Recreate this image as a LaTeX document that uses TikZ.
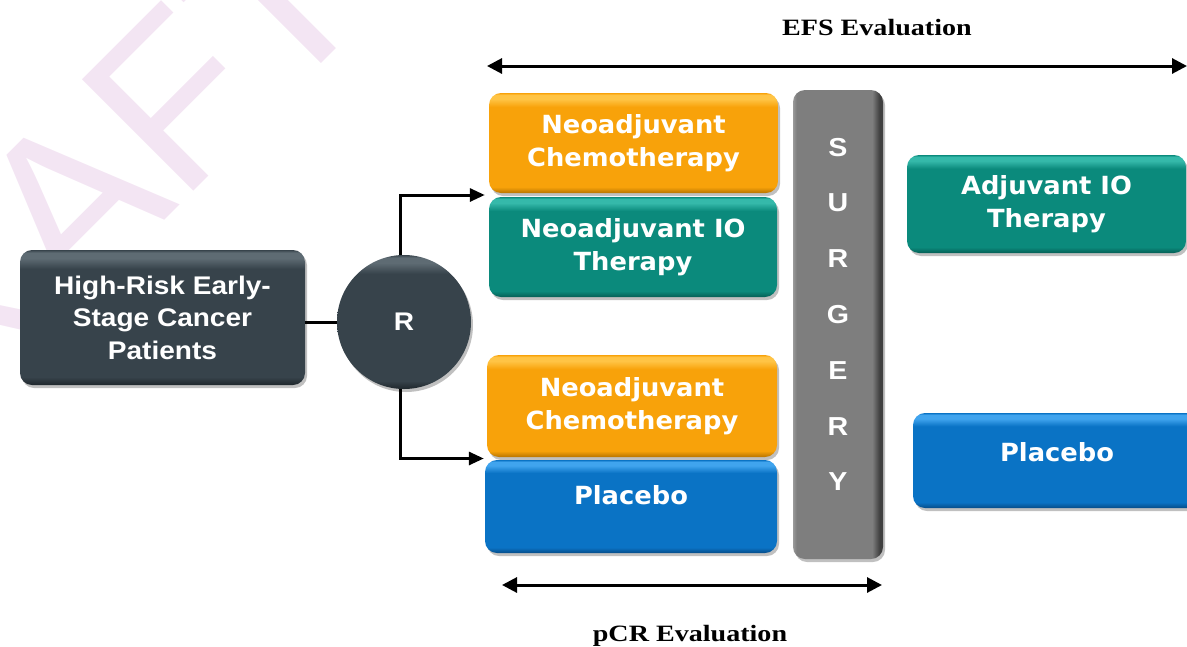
\documentclass[tikz,border=0pt]{standalone}
\usepackage{fontspec}
\usetikzlibrary{arrows.meta,shadows,calc}

% fonts
\newfontfamily\boxfont[FakeStretch=1.03]{DejaVu Sans}
\newfontfamily\arialfont[FakeStretch=1.1]{Liberation Sans}
\newfontfamily\evalfont[FakeStretch=1.2]{Liberation Serif}
\newfontfamily\wmfont{Liberation Sans}

% palette
\definecolor{slateB}{HTML}{37434B}
\definecolor{slateL}{HTML}{5E6B73}
\definecolor{slateD}{HTML}{1F272C}
\definecolor{orangeB}{HTML}{F8A20A}
\definecolor{orangeL}{HTML}{FFC445}
\definecolor{orangeD}{HTML}{B87400}
\definecolor{tealB}{HTML}{0B8A7C}
\definecolor{tealL}{HTML}{35B9AA}
\definecolor{tealD}{HTML}{055F55}
\definecolor{blueB}{HTML}{0A73C5}
\definecolor{blueL}{HTML}{40A4EE}
\definecolor{blueD}{HTML}{064C88}
\definecolor{grayB}{HTML}{7E7E7E}
\definecolor{grayL}{HTML}{9A9A9A}
\definecolor{grayD}{HTML}{404040}
\definecolor{wmpink}{HTML}{F3E5F3}

% glossy vertical shading: dark lower rim, flat body, light upper rim
\newcommand\mkgloss[4]{%
  \pgfdeclareverticalshading{#1}{100bp}{color(0bp)=(#2); color(25bp)=(#2);
    color(28bp)=(#3); color(68bp)=(#3); color(72bp)=(#4); color(74bp)=(#4);
    color(75bp)=(#3); color(100bp)=(#3)}}
\mkgloss{slatesh}{slateD}{slateB}{slateL}
\mkgloss{orangesh}{orangeD}{orangeB}{orangeL}
\mkgloss{tealsh}{tealD}{tealB}{tealL}
\mkgloss{bluesh}{blueD}{blueB}{blueL}
\pgfdeclarehorizontalshading{barsh}{100bp}{color(0bp)=(grayL); color(25bp)=(grayL);
  color(27bp)=(grayB); color(69bp)=(grayB); color(73bp)=(grayD); color(75bp)=(grayD);
  color(100bp)=(grayD)}

\newcommand\boxtext{\boxfont\bfseries\fontsize{25}{33}\selectfont}
\newcommand\arialtext{\arialfont\bfseries\fontsize{25.5}{32.5}\selectfont}

\tikzset{
  shadowed/.style={drop shadow={shadow xshift=2pt, shadow yshift=-3pt, opacity=0.45, fill=black!55}},
  gbox/.style={shadowed, shade, rounded corners=12pt, align=center, text=white,
    inner sep=0pt, font=\boxtext},
  conn/.style={line width=3pt, black},
  tip/.style={-{Triangle[length=15pt,width=13pt]}},
  evalarrow/.style={line width=3pt, {Triangle[length=15pt,width=15pt]}-{Triangle[length=15pt,width=15pt]}},
  evaltext/.style={font=\evalfont\bfseries\fontsize{23.4}{28}\selectfont, inner sep=0pt, anchor=base},
}

\begin{document}
\begin{tikzpicture}[x=1pt, y=-1pt]
\path[use as bounding box] (0,0) rectangle (1187,646);
\clip (0,0) rectangle (1187,646);

% watermark
\node[font=\wmfont\fontsize{229}{229}\selectfont, text=wmpink, rotate=45,
      anchor=base west, inner sep=0pt] (wm) at (-161,546) {DRAFT};

% population and randomisation
\node[gbox, shading=slatesh, font=\arialtext, minimum width=285pt, minimum height=135pt]
  (pat) at (162.5,317.5) {High-Risk Early-\\Stage Cancer\\Patients};
\node[shadowed, shade, shading=slatesh, circle, minimum size=134pt, inner sep=0pt,
      text=white, font=\arialtext] (rnd) at (404,322) {R};

% experimental arm
\node[gbox, shading=orangesh, minimum width=289pt, minimum height=100pt]
  (chemoA) at (633.5,143) {Neoadjuvant\\Chemotherapy};
\node[gbox, shading=tealsh, minimum width=288pt, minimum height=100pt]
  (ioA) at (633,247) {Neoadjuvant IO\\Therapy};

% control arm
\node[gbox, shading=orangesh, minimum width=290pt, minimum height=102pt]
  (chemoB) at (632,406) {Neoadjuvant\\Chemotherapy};
\node[gbox, shading=bluesh, minimum width=292pt, minimum height=93pt, text depth=22.8pt]
  (placA) at (631,506.5) {Placebo};

% surgery bar
\node[shadowed, shade, shading=barsh, rounded corners=12pt, minimum width=90pt,
      minimum height=469pt] (surg) at (838,324.5) {};
\node[text=white, align=center, inner sep=0pt,
      font=\arialfont\bfseries\fontsize{26}{55.8}\selectfont] (surgword) at (838,314.5)
  {S\\U\\R\\G\\E\\R\\Y};

% adjuvant phase
\node[gbox, shading=tealsh, minimum width=279pt, minimum height=98pt]
  (ioAdj) at (1046.5,204) {Adjuvant IO\\Therapy};
\node[gbox, shading=bluesh, minimum width=288pt, minimum height=95pt, text depth=17.8pt]
  (placAdj) at (1057,460.5) {Placebo};

% connectors
\draw[conn] (rnd.west -| pat.east) -- (rnd.west);
\draw[conn, tip] (rnd.north -| 400,0) |- ($(chemoA.south west)!0.5!(ioA.north west)+(-4,0)$);
\draw[conn, tip] (rnd.south -| 400,0) |- ($(chemoB.south west)!0.5!(placA.north west)+(-2,0)$);

% evaluation windows
\coordinate (efsL) at (487,66);
\coordinate (efsR) at (1187,66);
\draw[evalarrow] (efsL) -- (efsR);
\node[evaltext] (efs) at (877,35) {EFS Evaluation};

\coordinate (pcrL) at (502,585);
\coordinate (pcrR) at (882,585);
\draw[evalarrow] (pcrL) -- (pcrR);
\node[evaltext] (pcr) at (690,641) {pCR Evaluation};
\end{tikzpicture}
\end{document}
